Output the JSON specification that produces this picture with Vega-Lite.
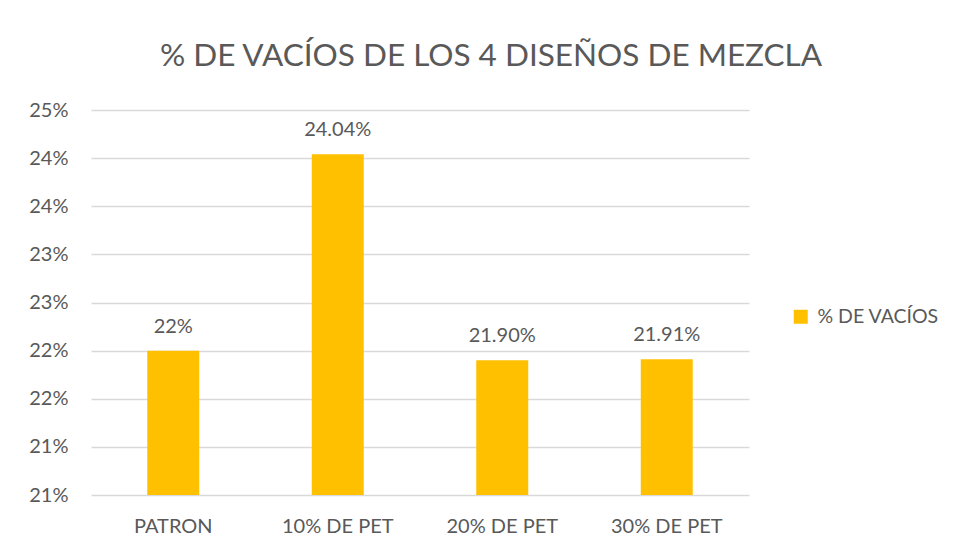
{
  "$schema": "https://vega.github.io/schema/vega-lite/v6.json",
  "width": 658,
  "height": 385,
  "autosize": {"type": "none"},
  "padding": {"left": 91, "top": 110, "right": 207, "bottom": 55},
  "background": "white",
  "title": {
    "text": "% DE VACÍOS DE LOS 4 DISEÑOS DE MEZCLA",
    "font": "Lato",
    "fontSize": 31.5,
    "fontWeight": "normal",
    "color": "#595959",
    "anchor": "middle",
    "baseline": "alphabetic",
    "offset": 43,
    "dx": 71,
    "dy": 40
  },
  "data": {
    "values": [
      {"diseno": "PATRON", "vacios": 22.0, "etiqueta": "22%", "serie": "% DE VACÍOS"},
      {"diseno": "10% DE PET", "vacios": 24.04, "etiqueta": "24.04%", "serie": "% DE VACÍOS"},
      {"diseno": "20% DE PET", "vacios": 21.9, "etiqueta": "21.90%", "serie": "% DE VACÍOS"},
      {"diseno": "30% DE PET", "vacios": 21.91, "etiqueta": "21.91%", "serie": "% DE VACÍOS"}
    ]
  },
  "encoding": {
    "x": {
      "field": "diseno",
      "type": "nominal",
      "sort": null,
      "scale": {"paddingInner": 0.684, "paddingOuter": 0.342},
      "axis": {
        "title": null,
        "labelAngle": 0,
        "domain": false,
        "ticks": false,
        "grid": false,
        "labelFont": "Lato",
        "labelFontSize": 20,
        "labelColor": "#595959",
        "labelPadding": 21
      }
    },
    "y": {
      "field": "vacios",
      "type": "quantitative",
      "scale": {"domain": [20.5, 24.5], "zero": false, "nice": false},
      "axis": {
        "title": null,
        "values": [20.5, 21, 21.5, 22, 22.5, 23, 23.5, 24, 24.5],
        "labelExpr": "round(datum.value) + '%'",
        "domain": false,
        "ticks": false,
        "grid": true,
        "gridColor": "#D9D9D9",
        "gridWidth": 1.3,
        "labelFont": "Lato",
        "labelFontSize": 20,
        "labelColor": "#595959",
        "labelPadding": 23
      }
    }
  },
  "layer": [
    {
      "mark": {"type": "bar"},
      "encoding": {
        "y2": {"datum": 20.5},
        "color": {
          "field": "serie",
          "type": "nominal",
          "scale": {"range": ["#FFC000"]},
          "legend": {
            "title": null,
            "orient": "none",
            "legendX": 700,
            "legendY": 197,
            "symbolType": "square",
            "symbolSize": 196,
            "symbolOpacity": 1,
            "symbolStrokeWidth": 0,
            "labelFont": "Lato",
            "labelFontSize": 19.5,
            "labelColor": "#595959",
            "labelOffset": 7
          }
        }
      }
    },
    {
      "mark": {
        "type": "text",
        "baseline": "alphabetic",
        "dy": -18,
        "font": "Lato",
        "fontSize": 20,
        "color": "#595959"
      },
      "encoding": {"text": {"field": "etiqueta"}}
    }
  ],
  "config": {"view": {"stroke": null}}
}
